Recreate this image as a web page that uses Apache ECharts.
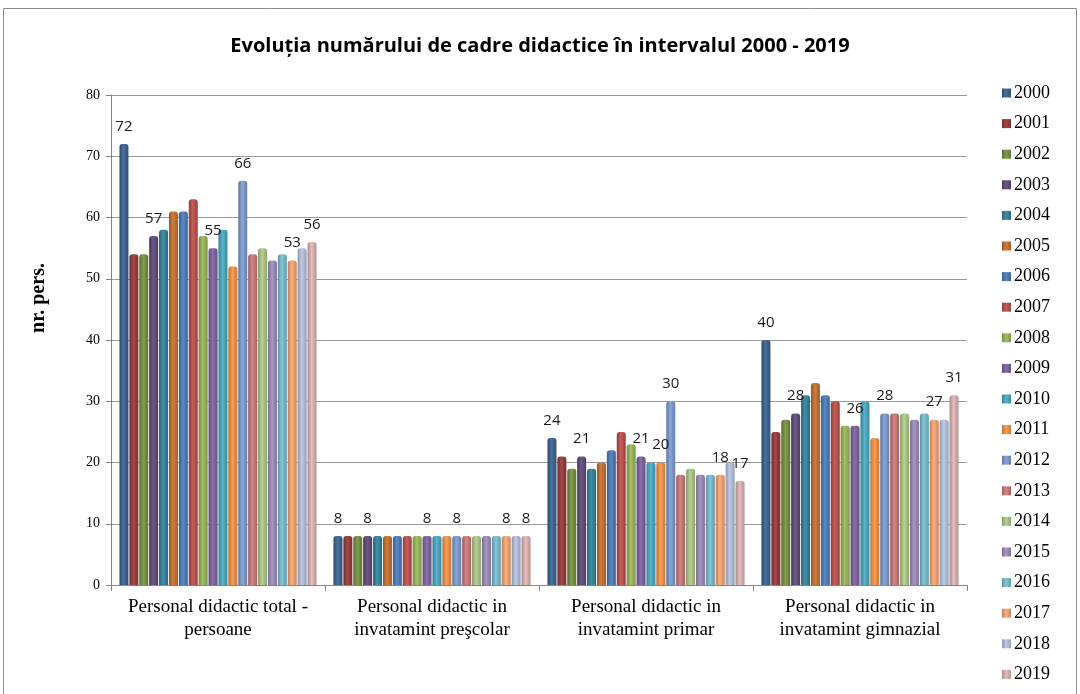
<!DOCTYPE html>
<html>
<head>
<meta charset="utf-8">
<title>Evoluția numărului de cadre didactice</title>
<script src="https://cdn.jsdelivr.net/npm/echarts@6/dist/echarts.min.js"></script>
<style>
  html, body { margin: 0; padding: 0; background: #fff; }
  #chart { width: 1080px; height: 694px; }
</style>
</head>
<body>
<div id="chart"></div>
<script>
// categorii si ani
const categories = [
  'Personal didactic total -\npersoane',
  'Personal didactic in\ninvatamint preşcolar',
  'Personal didactic in\ninvatamint primar',
  'Personal didactic in\ninvatamint gimnazial'
];
const years = ['2000', '2001', '2002', '2003', '2004', '2005', '2006', '2007', '2008', '2009',
  '2010', '2011', '2012', '2013', '2014', '2015', '2016', '2017', '2018', '2019'];

// valori pe categorie, 2000..2019
const totalPersoane = [72, 54, 54, 57, 58, 61, 61, 63, 57, 55, 58, 52, 66, 54, 55, 53, 54, 53, 55, 56];
const prescolar = [8, 8, 8, 8, 8, 8, 8, 8, 8, 8, 8, 8, 8, 8, 8, 8, 8, 8, 8, 8];
const primar = [24, 21, 19, 21, 19, 20, 22, 25, 23, 21, 20, 20, 30, 18, 19, 18, 18, 18, 20, 17];
const gimnazial = [40, 25, 27, 28, 31, 33, 31, 30, 26, 26, 30, 24, 28, 28, 28, 27, 28, 27, 27, 31];

const yTicks = [0, 10, 20, 30, 40, 50, 60, 70, 80];

const colors = ['#3b6495', '#9a3a38', '#779441', '#614b7d', '#32869e', '#c9732e', '#4c7fbd', '#c0504d',
  '#9bbb59', '#8064a2', '#4bacc6', '#f79646', '#7f9fd2', '#d07c7b', '#b4cd8b', '#a08ebe',
  '#7bc1d4', '#fba975', '#b9c7e3', '#e3b8b8'];

// etichete afisate (an -> categorii)
const labelled = {
  0: [0, 1, 2, 3], 3: [0, 1, 2, 3], 9: [0, 1, 2, 3], 11: [2],
  12: [0, 1, 2, 3], 17: [0, 1, 2, 3], 19: [0, 1, 2, 3]
};

const shade = (hex, f) => {
  const n = parseInt(hex.slice(1), 16);
  const ch = [(n >> 16) & 255, (n >> 8) & 255, n & 255].map(c =>
    Math.max(0, Math.min(255, Math.round(f < 0 ? c * (1 + f) : c + (255 - c) * f))));
  return 'rgb(' + ch.join(',') + ')';
};

const chart = echarts.init(document.getElementById('chart'));

const series = years.map((y, i) => {
  const vals = [totalPersoane[i], prescolar[i], primar[i], gimnazial[i]];
  const lab = labelled[i] || [];
  return {
    name: y,
    type: 'bar',
    barWidth: 9,
    barGap: '10%',
    data: vals.map((v, j) => lab.includes(j) ? { value: v, label: { show: true } } : v),
    label: {
      show: false,
      position: 'top',
      distance: 10,
      color: '#1a1a1a',
      fontSize: 15,
      fontFamily: 'Open Sans'
    },
    itemStyle: {
      borderRadius: [3, 3, 0, 0],
      color: new echarts.graphic.LinearGradient(0, 0, 1, 0, [
        { offset: 0, color: shade(colors[i], -0.25) },
        { offset: 0.45, color: shade(colors[i], 0.08) },
        { offset: 1, color: shade(colors[i], -0.2) }
      ])
    }
  };
});

chart.setOption({
  backgroundColor: '#fff',
  animation: false,
  color: colors,
  title: {
    text: 'Evoluția numărului de cadre didactice în intervalul 2000 - 2019',
    left: 'center',
    top: 31,
    textStyle: { color: '#000', fontSize: 20, fontWeight: 'bold', fontFamily: 'Open Sans' }
  },
  graphic: [{
    type: 'rect',
    shape: { x: 3.5, y: 8.5, width: 1073, height: 700 },
    style: { fill: 'none', stroke: '#8c8c8c', lineWidth: 1 },
    silent: true
  }],
  legend: {
    orient: 'vertical',
    left: 997,
    top: 78,
    icon: 'rect',
    itemWidth: 9,
    itemHeight: 9,
    itemGap: 10.6,
    data: years,
    textStyle: { color: '#000', fontSize: 18, lineHeight: 20, fontFamily: 'Liberation Serif', padding: [0, 0, 0, -2] }
  },
  grid: { left: 111, right: 113, top: 95, bottom: 109 },
  xAxis: {
    type: 'category',
    data: categories,
    axisLine: { lineStyle: { color: '#868686' } },
    axisTick: { show: true, interval: 0, length: 6, lineStyle: { color: '#868686' } },
    axisLabel: {
      color: '#000', fontSize: 19, lineHeight: 23, margin: 11, interval: 0,
      fontFamily: 'Liberation Serif'
    }
  },
  yAxis: {
    type: 'value',
    min: yTicks[0],
    max: yTicks[yTicks.length - 1],
    interval: 10,
    name: 'nr. pers.',
    nameLocation: 'middle',
    nameRotate: 90,
    nameGap: 62,
    nameTextStyle: {
      color: '#000', fontSize: 20, fontWeight: 'bold', fontFamily: 'Liberation Serif',
      padding: [0, 0, 0, 84]
    },
    axisLine: { show: true, lineStyle: { color: '#868686' } },
    axisTick: { show: true, length: 5, lineStyle: { color: '#868686' } },
    axisLabel: { color: '#000', fontSize: 14, margin: 11, fontFamily: 'Liberation Serif' },
    splitLine: { lineStyle: { color: '#9a9a9a', width: 1 } }
  },
  series
});

window.addEventListener('resize', () => chart.resize());
</script>
</body>
</html>
